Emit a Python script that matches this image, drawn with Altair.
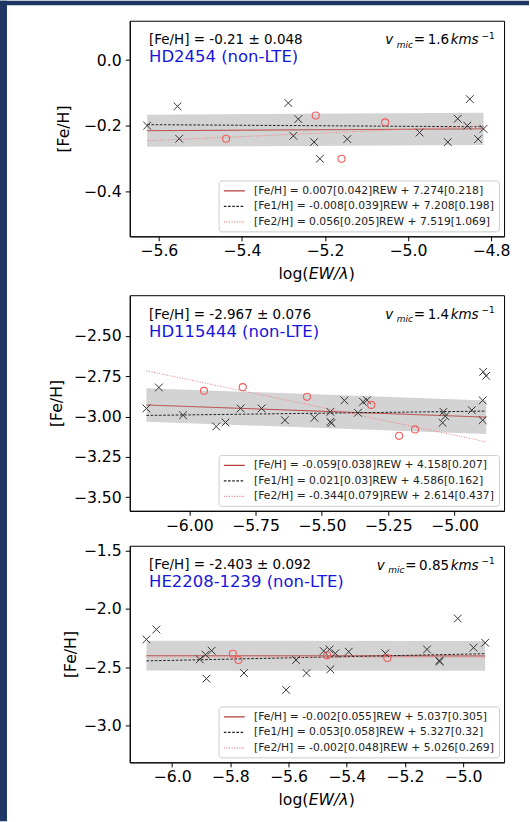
import altair as alt
import pandas as pd

FONT = "DejaVu Sans"
SOLAR_FE = 7.45          # solar log eps(Fe) used to turn the fits into [Fe/H]
NAVY = "#1e3764"

SPECIES = ["Fe/H", "Fe1/H", "Fe2/H"]
LINE_COLORS = ["#b5403c", "#222222", "#f07a7a"]
LINE_DASHES = [[1, 0], [2.6, 1.6], [1, 1.6]]

# ---------------- HD2454 ----------------
hd2454_fe1_x = [-5.628, -5.555, -5.551, -5.288, -5.264, -5.276, -5.226, -5.212,
                -5.146, -4.972, -4.904, -4.880, -4.851, -4.857, -4.831, -4.818]
hd2454_fe1_y = [-0.200, -0.141, -0.240, -0.131, -0.180, -0.231, -0.250, -0.301,
                -0.241, -0.221, -0.250, -0.179, -0.119, -0.200, -0.241, -0.210]
hd2454_fe2_x = [-5.438, -5.222, -5.160, -5.055]
hd2454_fe2_y = [-0.240, -0.169, -0.301, -0.190]
hd2454_slope = ["0.007", "-0.008", "0.056"]
hd2454_slope_err = ["0.042", "0.039", "0.205"]
hd2454_icpt = ["7.274", "7.208", "7.519"]
hd2454_icpt_err = ["0.218", "0.198", "1.069"]

# ---------------- HD115444 ----------------
hd115444_fe1_x = [-6.161, -6.114, -6.023, -5.898, -5.863, -5.806, -5.727, -5.639,
                  -5.528, -5.468, -5.468, -5.464, -5.415, -5.364, -5.345, -5.330,
                  -5.042, -5.035, -5.045, -4.935, -4.894, -4.894, -4.892, -4.881]
hd115444_fe1_y = [-2.950, -2.820, -2.992, -3.062, -3.037, -2.950, -2.950, -3.023,
                  -3.008, -2.971, -3.033, -3.041, -2.900, -2.977, -2.909, -2.899,
                  -2.971, -2.998, -3.039, -2.961, -2.900, -3.023, -2.723, -2.748]
hd115444_fe2_x = [-5.944, -5.798, -5.556, -5.314, -5.209, -5.149]
hd115444_fe2_y = [-2.841, -2.818, -2.878, -2.928, -3.120, -3.080]
hd115444_slope = ["-0.059", "0.021", "-0.344"]
hd115444_slope_err = ["0.038", "0.03", "0.079"]
hd115444_icpt = ["4.158", "4.586", "2.614"]
hd115444_icpt_err = ["0.207", "0.162", "0.437"]

# ---------------- HE2208-1239 ----------------
he2208_fe1_x = [-6.088, -6.054, -5.905, -5.885, -5.882, -5.864, -5.753, -5.608,
                -5.574, -5.538, -5.479, -5.459, -5.439, -5.456, -5.393, -5.267,
                -5.124, -5.082, -5.080, -5.018, -4.964, -4.924]
he2208_fe1_y = [-2.261, -2.176, -2.432, -2.392, -2.598, -2.358, -2.550, -2.695,
                -2.438, -2.550, -2.361, -2.347, -2.381, -2.518, -2.367, -2.381,
                -2.347, -2.443, -2.452, -2.082, -2.332, -2.290]
he2208_fe2_x = [-5.791, -5.772, -5.467, -5.260]
he2208_fe2_y = [-2.384, -2.438, -2.398, -2.421]
he2208_slope = ["-0.002", "0.053", "-0.002"]
he2208_slope_err = ["0.055", "0.058", "0.048"]
he2208_icpt = ["5.037", "5.327", "5.026"]
he2208_icpt_err = ["0.305", "0.32", "0.269"]

star_names = ["HD2454 (non-LTE)", "HD115444 (non-LTE)", "HE2208-1239 (non-LTE)"]
mean_feh = ["-0.21", "-2.967", "-2.403"]
mean_err = ["0.048", "0.076", "0.092"]
vmic = ["1.6", "1.4", "0.85"]
band_halfwidth = [0.049, 0.104, 0.128]

x_ticks = [[-5.6, -5.4, -5.2, -5.0, -4.8],
           [-6.0, -5.75, -5.5, -5.25, -5.0],
           [-6.0, -5.8, -5.6, -5.4, -5.2, -5.0]]
y_ticks = [[0.0, -0.2, -0.4],
           [-2.5, -2.75, -3.0, -3.25, -3.5],
           [-1.5, -2.0, -2.5, -3.0]]

XMARK = "M-1,-1L1,1M-1,1L1,-1"
LEGEND_LINE = "M-1,0L3,0"
ONE = pd.DataFrame({"k": [0]})
ORIGIN_X = 130           # left edge of every frame on the page


def text_layer(txt, x, y, size=13.5, color="black", style="normal", align="left"):
    return alt.Chart(ONE).mark_text(
        text=txt, font=FONT, fontSize=size, color=color, fontStyle=style,
        align=align, baseline="alphabetic"
    ).encode(x=alt.value(x), y=alt.value(y))


def rect_layer(x, x2, y, y2):
    return alt.Chart(ONE).mark_rect(color=NAVY).encode(
        x=alt.value(x), x2=alt.value(x2), y=alt.value(y), y2=alt.value(y2))


def panel(i, fe1_x, fe1_y, fe2_x, fe2_y, slope, slope_err, icpt, icpt_err,
          xdomain, ydomain, xfmt, yfmt, W, H, top, bottom, title_x,
          show_xtitle, draw_top_strip):
    labels = [f"[{s}] = {a}[{ae}]REW + {b}[{be}]"
              for s, a, ae, b, be in zip(SPECIES, slope, slope_err, icpt, icpt_err)]
    xmin = min(fe1_x + fe2_x)
    xmax = max(fe1_x + fe2_x)

    rows = []
    for lab, a, b in zip(labels, slope, icpt):
        for xv in (xmin, xmax):
            rows.append({"label": lab, "x": xv, "y": float(a) * xv + float(b) - SOLAR_FE})
    lines = pd.DataFrame(rows)

    a0, b0 = float(slope[0]), float(icpt[0])
    hw = band_halfwidth[i]
    band = pd.DataFrame({
        "x": [xmin, xmax],
        "lo": [a0 * v + b0 - SOLAR_FE - hw for v in (xmin, xmax)],
        "hi": [a0 * v + b0 - SOLAR_FE + hw for v in (xmin, xmax)],
    })
    fe1 = pd.DataFrame({"x": fe1_x, "y": fe1_y})
    fe2 = pd.DataFrame({"x": fe2_x, "y": fe2_y})

    xs = alt.Scale(domain=xdomain, nice=False, zero=False)
    ys = alt.Scale(domain=ydomain, nice=False, zero=False)
    xax = alt.Axis(values=x_ticks[i], format=xfmt, title=None, grid=False,
                   tickSize=4.5, tickWidth=1, tickColor="black",
                   domainColor="black", domainWidth=1,
                   labelFont=FONT, labelFontSize=15.7, labelColor="black",
                   labelPadding=3, labelFlush=False, labelOverlap=False)
    yax = alt.Axis(values=y_ticks[i], format=yfmt, title="[Fe/H]", grid=False,
                   tickSize=4.5, tickWidth=1, tickColor="black",
                   domainColor="black", domainWidth=1,
                   labelFont=FONT, labelFontSize=15.7, labelColor="black",
                   labelPadding=4, labelFlush=False, labelOverlap=False,
                   titleFont=FONT, titleFontSize=15.7, titleFontWeight="normal",
                   titleColor="black", titleX=title_x, titleY=H / 2,
                   titleBaseline="middle", titleAlign="center")

    X = alt.X("x:Q", scale=xs, axis=xax)
    Y = alt.Y("y:Q", scale=ys, axis=yax)

    leg = alt.Legend(title=None, orient="bottom-right", offset=5.5,
                     symbolType=LEGEND_LINE, symbolSize=110, symbolStrokeWidth=1.2,
                     labelFont=FONT, labelFontSize=10.8, labelColor="#222222",
                     labelLimit=400, labelOffset=19, padding=4.5, rowPadding=4.5,
                     fillColor="rgba(255,255,255,0.8)", strokeColor="#cccccc",
                     cornerRadius=3)

    band_l = alt.Chart(band).mark_area(color="#d3d3d3", opacity=1).encode(
        x=X, y=alt.Y("lo:Q", scale=ys, axis=yax), y2="hi:Q")
    line_l = alt.Chart(lines).mark_line(strokeWidth=1).encode(
        x=X, y=Y,
        color=alt.Color("label:N", scale=alt.Scale(domain=labels, range=LINE_COLORS), legend=leg),
        strokeDash=alt.StrokeDash("label:N", scale=alt.Scale(domain=labels, range=LINE_DASHES), legend=leg),
    )
    fe1_l = alt.Chart(fe1).mark_point(shape=XMARK, filled=False, stroke="#333333",
                                      strokeWidth=1, size=60, opacity=1).encode(x=X, y=Y)
    fe2_l = alt.Chart(fe2).mark_point(shape="circle", filled=False, stroke="#f25c5c",
                                      strokeWidth=1.1, size=50, opacity=1).encode(x=X, y=Y)

    layers = [band_l, line_l, fe1_l, fe2_l]

    # annotations in the upper part of the frame
    layers.append(text_layer(f"[Fe/H] = {mean_feh[i]} ± {mean_err[i]}", 19.3, 23.5))
    layers.append(text_layer(star_names[i], 19.3, 41.5, size=16.5, color="#1616dc"))
    shift = (len(vmic[i]) - 3) * 8.6
    layers.append(text_layer("v", W - 119 - shift, 23.8, style="italic"))
    layers.append(text_layer("mic", W - 107.5 - shift, 27.3, size=9, style="italic"))
    layers.append(text_layer("=", W - 90.5 - shift, 23.8))
    layers.append(text_layer(vmic[i], W - 76.5 - shift, 23.8))
    layers.append(text_layer("kms", W - 53.5, 23.8, style="italic"))
    layers.append(text_layer("\u22121", W - 22.5, 17.8, size=9))

    if show_xtitle:
        cx = W / 2
        start = cx - 38.5
        layers.append(text_layer("log(", start, H + 43, size=15.7))
        layers.append(text_layer("EW/\u03bb", start + 30.3, H + 43, size=15.7, style="italic"))
        layers.append(text_layer(")", start + 70.5, H + 43, size=15.7))

    # page border strips
    layers.append(rect_layer(-ORIGIN_X, -ORIGIN_X + 7, -top, bottom))
    if draw_top_strip:
        layers.append(rect_layer(-ORIGIN_X, 530 - ORIGIN_X, -top, -top + 4.5))

    return alt.layer(*layers).properties(width=W, height=H)


p1 = panel(0, hd2454_fe1_x, hd2454_fe1_y, hd2454_fe2_x, hd2454_fe2_y,
           hd2454_slope, hd2454_slope_err, hd2454_icpt, hd2454_icpt_err,
           [-5.670, -4.7685], [-0.5376, 0.120], ".1f", ".1f",
           375, 216, 20, 268, -66, True, True)
p2 = panel(1, hd115444_fe1_x, hd115444_fe1_y, hd115444_fe2_x, hd115444_fe2_y,
           hd115444_slope, hd115444_slope_err, hd115444_icpt, hd115444_icpt_err,
           [-6.2238, -4.8135], [-3.585, -2.2477], ".2f", ".2f",
           375, 216, 8, 245, -73.6, False, False)
p3 = panel(2, he2208_fe1_x, he2208_fe1_y, he2208_fe2_x, he2208_fe2_y,
           he2208_slope, he2208_slope_err, he2208_icpt, he2208_icpt_err,
           [-6.1455, -4.859], [-3.3165, -1.4572], ".1f", ".1f",
           375, 217, 7, 276, -59, True, False)

# the layout keeps a small margin round each panel; pull the panels
# together so the border strips overlap and join up
chart = (
    alt.vconcat(p1, p2, p3, spacing=-3)
    .resolve_scale(x="independent", y="independent",
                   color="independent", strokeDash="independent")
    .properties(padding={"left": -1, "top": -1, "right": 0, "bottom": 0},
                background="white")
    .configure(font=FONT)
    .configure_view(stroke="black", strokeWidth=1)
)

chart.save("out.html", embed_options={"renderer": "svg", "actions": False})
